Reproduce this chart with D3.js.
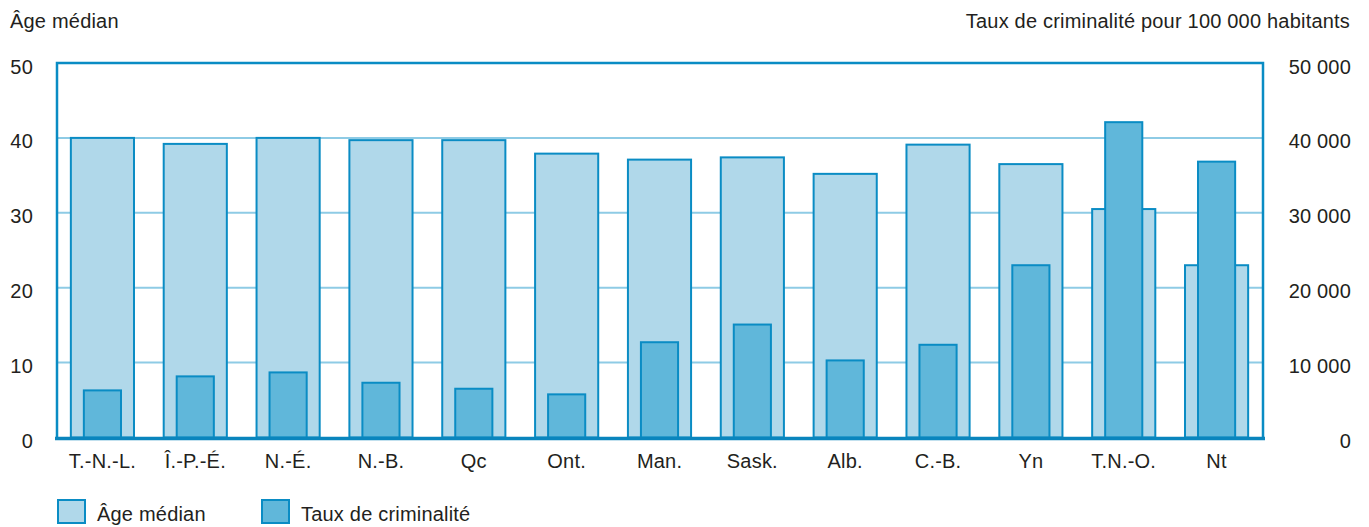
<!DOCTYPE html>
<html><head><meta charset="utf-8">
<script src="https://cdn.jsdelivr.net/npm/d3@7"></script>
<style>
body{margin:0;background:#fff}
text{font-family:"Liberation Sans",Arial,sans-serif;fill:#231f20;letter-spacing:0.2px}
</style></head><body>
<svg id="c" width="1369" height="527"></svg>
<script>
const categories = ["T.-N.-L.","Î.-P.-É.","N.-É.","N.-B.","Qc","Ont.","Man.","Sask.","Alb.","C.-B.","Yn","T.N.-O.","Nt"];
const medianAge = [40.0,39.2,40.0,39.7,39.7,37.9,37.1,37.4,35.2,39.1,36.5,30.5,23.0];
const crimeRate = [6290,8160,8690,7310,6510,5760,12720,15080,10290,12380,23000,42100,36830];
const leftTicks = [0,10,20,30,40,50];
const rightTicks = [0,10000,20000,30000,40000,50000];
const leftTitle = "Âge médian";
const rightTitle = "Taux de criminalité pour 100 000 habitants";
const legendLabels = ["Âge médian","Taux de criminalité"];

const svg = d3.select("#c");
const L=57, R=1263, T=63, B=437.5;
const x = d3.scaleBand().domain(categories).range([L-1,R]).paddingInner(0).paddingOuter(0);
const yL = d3.scaleLinear().domain([0,50]).range([B,T]);
const yR = d3.scaleLinear().domain([0,50000]).range([B,T]);
const frame="#0a8cc4", light="#b0d8ea", dark="#60b7da", grid="#8ecbe5";
const fmt = d => d3.format(",")(d).replace(/,/g," ");

// gridlines
svg.append("g").selectAll("line").data(leftTicks.filter(d=>d>0&&d<50)).join("line")
  .attr("x1",L).attr("x2",R).attr("y1",d=>yL(d)).attr("y2",d=>yL(d))
  .attr("stroke",grid).attr("stroke-width",2);

const wW = x.bandwidth()*0.68, nW = x.bandwidth()*0.40;
svg.append("g").selectAll("rect").data(categories).join("rect")
  .attr("x",(d)=>x(d)+x.bandwidth()/2-wW/2).attr("width",wW)
  .attr("y",(d,i)=>yL(medianAge[i])).attr("height",(d,i)=>B-yL(medianAge[i]))
  .attr("fill",light).attr("stroke",frame).attr("stroke-width",2);
svg.append("g").selectAll("rect").data(categories).join("rect")
  .attr("x",(d)=>x(d)+x.bandwidth()/2-nW/2).attr("width",nW)
  .attr("y",(d,i)=>yR(crimeRate[i])).attr("height",(d,i)=>B-yR(crimeRate[i]))
  .attr("fill",dark).attr("stroke",frame).attr("stroke-width",2);

// frame
svg.append("path").attr("d",`M${L},${B}V${T}H${R}V${B}`).attr("fill","none").attr("stroke",frame).attr("stroke-width",2.5);
svg.append("line").attr("x1",L-2).attr("x2",R+2).attr("y1",B+1).attr("y2",B+1).attr("stroke","#0a85bd").attr("stroke-width",3.5);

// left axis
const axL = svg.append("g").attr("transform",`translate(${L},0)`)
  .call(d3.axisLeft(yL).tickValues(leftTicks).tickSize(0).tickPadding(24));
axL.select(".domain").remove();
axL.selectAll("text").attr("font-size",20).attr("dy","0.5em");
// right axis
const axR = svg.append("g").attr("transform",`translate(${R},0)`)
  .call(d3.axisRight(yR).tickValues(rightTicks).tickFormat(fmt).tickSize(0).tickPadding(88));
axR.select(".domain").remove();
axR.selectAll("text").attr("font-size",20).attr("dy","0.5em").attr("text-anchor","end");
// x axis
const axX = svg.append("g").attr("transform",`translate(0,${B})`)
  .call(d3.axisBottom(x).tickSize(0).tickPadding(16));
axX.select(".domain").remove();
axX.selectAll("text").attr("font-size",20);
svg.selectAll("g").attr("font-family",null);
svg.selectAll(".tick text").attr("fill","#231f20");

// titles
svg.append("text").attr("x",10).attr("y",28).attr("font-size",20).text(leftTitle);
svg.append("text").attr("x",1350).attr("y",28).attr("font-size",20).attr("text-anchor","end").text(rightTitle);

// legend
const lg = svg.append("g");
const lx=[58,262], fills=[light,dark];
legendLabels.forEach((t,i)=>{
  lg.append("rect").attr("x",lx[i]).attr("y",500).attr("width",27).attr("height",23)
    .attr("fill",fills[i]).attr("stroke",frame).attr("stroke-width",2);
  lg.append("text").attr("x",lx[i]+39).attr("y",521).attr("font-size",20).text(t);
});
</script></body></html>
